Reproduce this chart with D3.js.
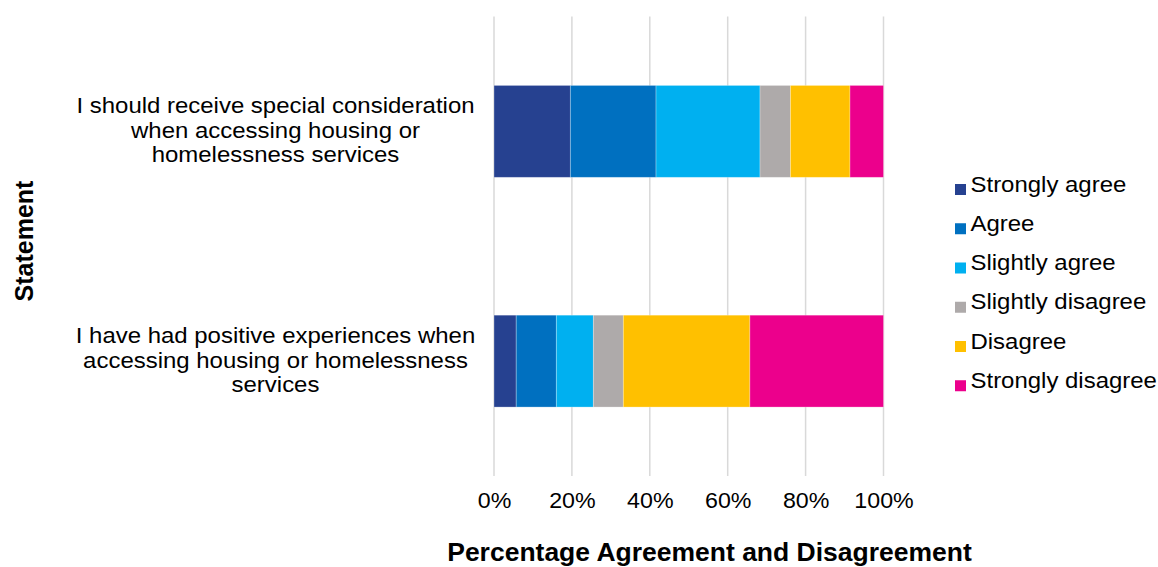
<!DOCTYPE html>
<html><head><meta charset="utf-8">
<script src="https://cdn.jsdelivr.net/npm/d3@7"></script>
<style>body{margin:0;background:#fff;} text{font-family:"Liberation Sans",Arial,Helvetica,sans-serif;fill:#000;}</style>
</head><body>
<svg id="c" width="1158" height="567"></svg>
<script>
const categories = [
  ["I should receive special consideration", "when accessing housing or", "homelessness services"],
  ["I have had positive experiences when", "accessing housing or homelessness", "services"]
];
const seriesNames = ["Strongly agree","Agree","Slightly agree","Slightly disagree","Disagree","Strongly disagree"];
const colors = ["#264190","#0070C0","#00B0F0","#AEAAAA","#FFC000","#EC008C"];
const stronglyAgree = [19.6, 5.7];
const agree = [22.0, 10.3];
const slightlyAgree = [26.7, 9.5];
const slightlyDisagree = [7.8, 7.7];
const disagree = [15.3, 32.5];
const stronglyDisagree = [8.6, 34.3];
const tickValues = [0,20,40,60,80,100];

const SX = 1.115; // horizontal text stretch to mimic the wider reference font
const SXT = 1.08;
const seriesVals = [stronglyAgree, agree, slightlyAgree, slightlyDisagree, disagree, stronglyDisagree];
const rows = categories.map((c,i)=>{const o={idx:i}; seriesNames.forEach((s,j)=>o[s]=seriesVals[j][i]); return o;});
const stack = d3.stack().keys(seriesNames)(rows);

const svg = d3.select("#c");
const x = d3.scaleLinear().domain([0,100]).range([494,883.5]);
const y = d3.scaleBand().domain([0,1]).range([16.5,476]).paddingInner(0.6).paddingOuter(0.3);

// gridlines
svg.append("g").selectAll("line").data(tickValues).join("line")
  .attr("x1",d=>x(d)).attr("x2",d=>x(d)).attr("y1",16.5).attr("y2",476)
  .attr("stroke","#d9d9d9").attr("stroke-width",1.5);

// bars
svg.append("g").selectAll("g").data(stack).join("g")
  .attr("fill",(d,i)=>colors[i])
  .selectAll("rect").data(d=>d).join("rect")
  .attr("x",d=>x(d[0])).attr("width",d=>x(d[1])-x(d[0]))
  .attr("y",d=>y(d.data.idx)).attr("height",y.bandwidth())
  .attr("stroke","#ffffff").attr("stroke-opacity",0.35).attr("stroke-width",0.8);

// x axis tick labels
const xa = d3.axisBottom(x).tickValues(tickValues).tickFormat(d=>d+"%").tickSize(0).tickPadding(0);
const gx = svg.append("g").attr("transform","translate(0,508)").call(xa);
gx.select(".domain").remove();
gx.selectAll(".tick text").attr("y",0).attr("dy",0).attr("font-size","21.5px")
  .attr("font-family","Liberation Sans, Arial, sans-serif").attr("fill","#000")
  .attr("transform",`scale(${SXT},1)`);

// category labels
categories.forEach((lines,i)=>{
  const cy = y(i)+y.bandwidth()/2;
  const g = svg.append("g").attr("transform",`translate(275.5,${cy}) scale(${SX},1)`);
  const t = g.append("text").attr("text-anchor","middle").attr("font-size","21.5px");
  lines.forEach((ln,k)=>{
    t.append("tspan").attr("x",0).attr("y",6.5+(k-1)*24.5).text(ln);
  });
});

// axis titles
svg.append("text").attr("transform","translate(33,241) rotate(-90)").attr("text-anchor","middle")
  .attr("font-size","25px").attr("font-weight","bold").text("Statement");
svg.append("g").attr("transform",`translate(709.5,561) scale(1.06,1)`)
  .append("text").attr("x",0).attr("y",0).attr("text-anchor","middle")
  .attr("font-size","25px").attr("font-weight","bold").text("Percentage Agreement and Disagreement");

// legend
const lg = svg.append("g").selectAll("g").data(seriesNames).join("g")
  .attr("transform",(d,i)=>`translate(955,${191.7+i*39.25})`);
lg.append("rect").attr("x",0).attr("y",-7.7).attr("width",11).attr("height",11).attr("fill",(d,i)=>colors[i]);
lg.append("g").attr("transform",`translate(15.5,0) scale(${SX},1)`)
  .append("text").attr("x",0).attr("y",0).attr("font-size","21.5px").text(d=>d);
</script>
</body></html>
